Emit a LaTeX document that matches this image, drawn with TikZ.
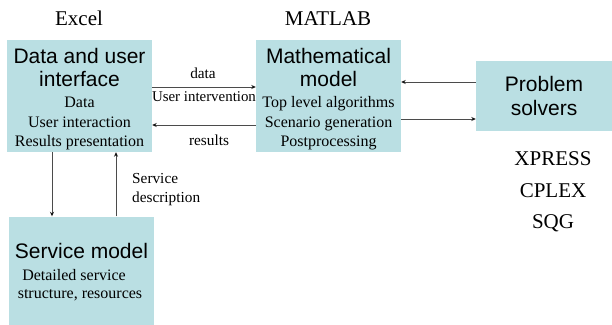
\documentclass[tikz,border=0pt]{standalone}
\usepackage{fontspec}
\setmainfont{Liberation Serif}
\newfontfamily\arialf{Liberation Sans}
\usetikzlibrary{arrows.meta}
\definecolor{boxfill}{RGB}{186,223,227}
\definecolor{arrowc}{RGB}{75,75,75}
\definecolor{tipc}{RGB}{20,20,20}
\begin{document}
\begin{tikzpicture}[x=1pt,y=-1pt,
  box/.style={fill=boxfill, draw=none, inner sep=0pt},
  head/.style={anchor=base, font=\arialf\fontsize{21}{24}\selectfont, inner sep=0pt},
  body/.style={anchor=base, font=\fontsize{16}{19}\selectfont, inner sep=0pt},
  lbl/.style={anchor=base, font=\fontsize{15.3}{18}\selectfont, inner sep=0pt},
  big/.style={anchor=base, font=\fontsize{21}{24}\selectfont, inner sep=0pt},
  arr/.style={draw=arrowc, line width=0.75pt, -{Stealth[length=4.5pt,width=4pt,color=tipc]}}
]
\useasboundingbox (0,0) rectangle (612,324);
% boxes
\node[box, minimum width=145pt, minimum height=112pt] (ui) at (79.5,96) {};
\node[box, minimum width=145pt, minimum height=112pt] (mm) at (328.5,96) {};
\node[box, minimum width=136pt, minimum height=70pt] (ps) at (544,96) {};
\node[box, minimum width=145pt, minimum height=108pt] (sm) at (81.5,270.5) {};
% titles above
\node[big] (excel) at (79,25.5) {Excel};
\node[big] (matlab) at (328,25.5) {MATLAB};
% box 1 text
\node[head] (ui1) at (79.5,63) {Data and user};
\node[head] (ui2) at (79.5,86) {interface};
\node[body] (ui3) at (79.5,107) {Data};
\node[body] (ui4) at (79.5,127) {User interaction};
\node[body] (ui5) at (79.5,146) {Results presentation};
% box 2 text
\node[head] (mm1) at (328.5,63) {Mathematical};
\node[head] (mm2) at (328.5,86) {model};
\node[body] (mm3) at (328.5,107) {Top level algorithms};
\node[body] (mm4) at (328.5,127) {Scenario generation};
\node[body] (mm5) at (328.5,146) {Postprocessing};
% box 3 text
\node[head] (ps1) at (544,91) {Problem};
\node[head] (ps2) at (544,115) {solvers};
% box 4 text
\node[head] (sm1) at (81.5,258) {Service model};
\node[body] (sm2) at (74,280) {Detailed service};
\node[body] (sm3) at (80,298) {structure, resources};
% solvers list
\node[big] (s1) at (553,165) {XPRESS};
\node[big] (s2) at (553,197) {CPLEX};
\node[big] (s3) at (553,228) {SQG};
% arrows
\draw[arr] ([yshift=9pt]ui.east) -- ([yshift=9pt]mm.west);
\draw[arr] ([yshift=-29pt]mm.west) -- ([yshift=-29pt]ui.east);
\draw[arr] ([yshift=14pt]ps.west) -- ([yshift=14pt]ps.west -| mm.east);
\draw[arr] ([yshift=-23pt]mm.east) -- ([yshift=-23pt]mm.east -| ps.west);
\draw[arr] ([xshift=-27.5pt]ui.south) -- ([xshift=-27.5pt]ui.south |- sm.north);
\draw[arr] ([xshift=36.5pt]ui.south |- sm.north) -- ([xshift=36.5pt]ui.south);
% arrow labels
\node[lbl] (l1) at (203,78) {data};
\node[lbl, font=\fontsize{14.9}{18}\selectfont] (l2) at (204,101.7) {User intervention};
\node[lbl] (l3) at (209,145.7) {results};
\node[lbl, anchor=base west] (l4) at (132,183.3) {Service};
\node[lbl, anchor=base west] (l5) at (132,202) {description};
\end{tikzpicture}
\end{document}
